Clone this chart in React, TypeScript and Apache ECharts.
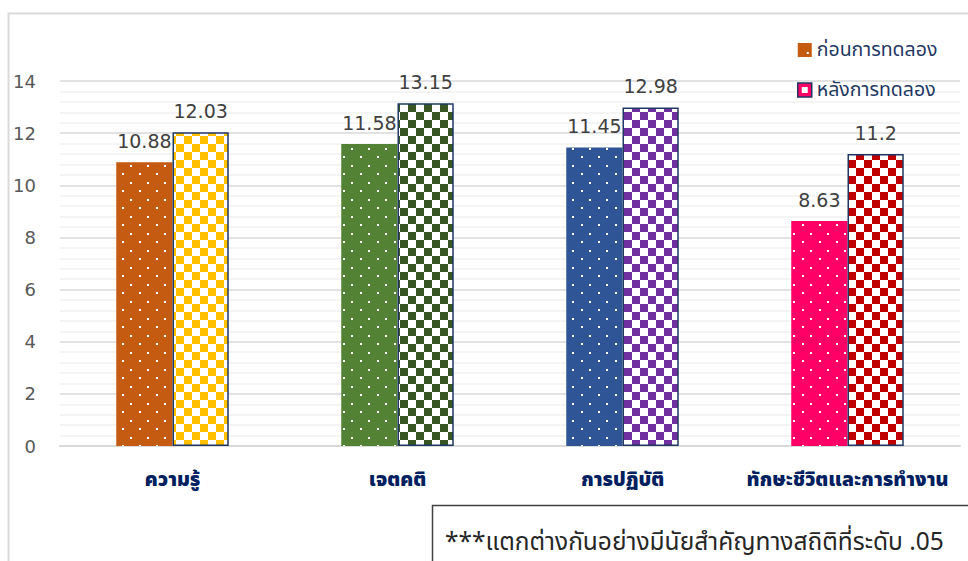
import React, { useEffect, useRef } from "react";
import * as echarts from "echarts";

const categories = ["ความรู้", "เจตคติ", "การปฏิบัติ", "ทักษะชีวิตและการทำงาน"];
const seriesNames = ["ก่อนการทดลอง", "หลังการทดลอง"];
const beforeValues = [10.88, 11.58, 11.45, 8.63];
const afterValues = [12.03, 13.15, 12.98, 11.2];
const beforeColors = ["#C55A11", "#548235", "#2F5597", "#FF0066"];
const afterColors = ["#FFC000", "#375623", "#7030A0", "#C00000"];
const noteText = "***แตกต่างกันอย่างมีนัยสำคัญทางสถิติที่ระดับ .05";

const THAI_FONT = "'Noto Sans Thai', 'Leelawadee UI', Tahoma, 'DejaVu Sans', 'Noto Sans', sans-serif";
const NUM_FONT = "'DejaVu Sans', 'Noto Sans', sans-serif";

function dotPattern(color: string) {
  const c = document.createElement("canvas");
  c.width = 17;
  c.height = 17;
  const ctx = c.getContext("2d")!;
  ctx.fillStyle = color;
  ctx.fillRect(0, 0, 17, 17);
  ctx.fillStyle = "#ffffff";
  ctx.fillRect(3, 3, 2, 2);
  ctx.fillRect(11, 12, 2, 2);
  return { image: c, repeat: "repeat" } as any;
}

function checkerPattern(color: string) {
  const c = document.createElement("canvas");
  c.width = 16;
  c.height = 16;
  const ctx = c.getContext("2d")!;
  ctx.fillStyle = "#ffffff";
  ctx.fillRect(0, 0, 16, 16);
  ctx.fillStyle = color;
  ctx.fillRect(0, 0, 8, 8);
  ctx.fillRect(8, 8, 8, 8);
  return { image: c, repeat: "repeat" } as any;
}

function legendBeforeIcon(color: string) {
  const c = document.createElement("canvas");
  c.width = 14;
  c.height = 14;
  const ctx = c.getContext("2d")!;
  ctx.fillStyle = color;
  ctx.fillRect(0, 0, 14, 14);
  ctx.fillStyle = "#ffffff";
  ctx.fillRect(9, 9, 2, 2);
  return { image: c, repeat: "no-repeat" } as any;
}

function legendAfterIcon(color: string) {
  const c = document.createElement("canvas");
  c.width = 14;
  c.height = 14;
  const ctx = c.getContext("2d")!;
  ctx.fillStyle = color;
  ctx.fillRect(0, 0, 14, 14);
  ctx.fillStyle = "#ffffff";
  ctx.fillRect(4, 4, 6, 6);
  return { image: c, repeat: "no-repeat" } as any;
}

export default function App() {
  const ref = useRef<HTMLDivElement>(null);

  useEffect(() => {
    document.body.style.margin = "0";
    const chart = echarts.init(ref.current!, null, { renderer: "svg" });

    const labelStyle = {
      show: true,
      position: "top",
      distance: 12,
      fontSize: 19,
      color: "#404040",
      fontFamily: NUM_FONT,
    };

    chart.setOption({
      animation: false,
      backgroundColor: "#ffffff",
      grid: { left: 60, right: 8, top: 81, bottom: 115 },
      legend: {
        orient: "vertical",
        left: 792,
        top: 35,
        itemWidth: 14,
        itemHeight: 14,
        itemGap: 20,
        textStyle: { fontSize: 19.5, color: "#1F3864", fontFamily: THAI_FONT },
        data: [
          { name: seriesNames[0], icon: "rect", itemStyle: { color: legendBeforeIcon(beforeColors[0]), borderWidth: 0 } },
          { name: seriesNames[1], icon: "rect", itemStyle: { color: legendAfterIcon(beforeColors[3]), borderColor: "#1F3864", borderWidth: 1.5 } },
        ],
      },
      xAxis: {
        type: "category",
        data: categories,
        axisLine: { lineStyle: { color: "#D9D9D9", width: 2 } },
        axisTick: { show: false },
        axisLabel: {
          interval: 0,
          hideOverlap: false,
          margin: 24,
          fontSize: 19.5,
          fontWeight: 900,
          color: "#002060",
          fontFamily: THAI_FONT,
        },
      },
      yAxis: {
        type: "value",
        min: 0,
        max: 14,
        interval: 2,
        axisLine: { show: false },
        axisTick: { show: false },
        axisLabel: { margin: 24, fontSize: 18, color: "#595959", fontFamily: NUM_FONT },
        splitLine: { lineStyle: { color: "#D9D9D9", width: 1.5 } },
        minorTick: { show: false, splitNumber: 5 },
        minorSplitLine: { show: true, lineStyle: { color: "#F0F0F0", width: 1.5 } },
      },
      series: [
        {
          name: seriesNames[0],
          type: "bar",
          barGap: "0%",
          barCategoryGap: "50%",
          label: labelStyle,
          itemStyle: { color: beforeColors[0] },
          data: beforeValues.map((v, i) => ({ value: v, itemStyle: { color: dotPattern(beforeColors[i]) } })),
        },
        {
          name: seriesNames[1],
          type: "bar",
          barGap: "0%",
          barCategoryGap: "50%",
          label: labelStyle,
          itemStyle: { color: afterColors[3], borderColor: "#1F3864", borderWidth: 1.5 },
          data: afterValues.map((v, i) => ({
            value: v,
            itemStyle: { color: checkerPattern(afterColors[i]), borderColor: "#1F3864", borderWidth: 1.5 },
          })),
        },
      ],
      graphic: [
        {
          type: "rect",
          z: -10,
          silent: true,
          shape: { x: 8.5, y: 13.5, width: 1000, height: 600 },
          style: { fill: "none", stroke: "#D9D9D9", lineWidth: 2 },
        },
        {
          type: "rect",
          z: 100,
          shape: { x: 432.5, y: 505.5, width: 600, height: 100 },
          style: { fill: "#ffffff", stroke: "#404040", lineWidth: 1.5 },
        },
        {
          type: "text",
          z: 101,
          x: 445,
          y: 542,
          style: {
            text: noteText,
            fontSize: 24.5,
            fill: "#262626",
            fontFamily: THAI_FONT,
            verticalAlign: "middle",
          },
        },
      ],
    });

    return () => chart.dispose();
  }, []);

  return <div ref={ref} style={{ width: 968, height: 561 }} />;
}
